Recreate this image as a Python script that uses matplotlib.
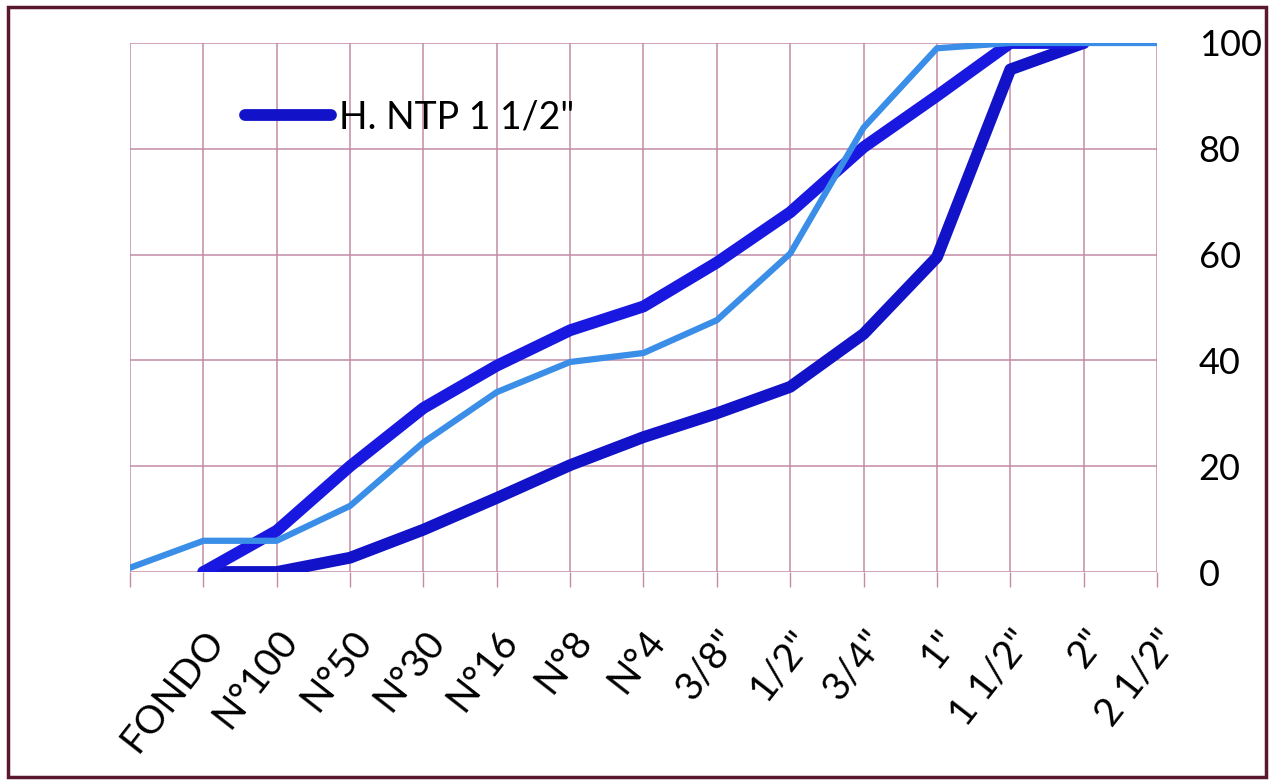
import numpy as np
import matplotlib.pyplot as plt
import matplotlib.patches as mpatches

# sieve sizes (first slot is an unlabeled start position)
sieves = ["", "FONDO", "N°100", "N°50", "N°30", "N°16", "N°8", "N°4",
          '3/8"', '1/2"', '3/4"', '1"', '1 1/2"', '2"', '2 1/2"']

nan = np.nan
# % passing
limite_sup = [nan, 0, 7.8, 20, 31, 39, 45.7, 50.2, 58.5, 68, 80.3, 90, 100, 100, nan]
limite_inf = [nan, 0, 0, 2.7, 8, 14, 20.2, 25.5, 30, 35, 45, 59.5, 95, 100, nan]
muestra = [0.8, 5.9, 5.9, 12.5, 24.5, 34, 39.7, 41.4, 47.6, 60.2, 84, 99, 100, 100, 100]

yticks = [0, 20, 40, 60, 80, 100]
legend_label = 'H. NTP 1 1/2"'

plt.rcParams["font.family"] = ["Lato", "DejaVu Sans"]

grid_c = "#c48aa6"
dark1 = "#1818e0"
dark2 = "#1212c8"
light = "#3a8ee8"

fig = plt.figure(figsize=(12.72, 7.82), dpi=100)
ax = fig.add_axes([130 / 1272, 1 - 572 / 782, (1157 - 130) / 1272, (572 - 43) / 782])

x = np.arange(len(sieves))
ax.plot(x, limite_inf, color=dark2, lw=8.5, solid_capstyle="round",
        solid_joinstyle="round", label=legend_label, zorder=3)
ax.plot(x, limite_sup, color=dark1, lw=8.5, solid_capstyle="round",
        solid_joinstyle="round", zorder=3)
ax.plot(x, muestra, color=light, lw=4.5, solid_capstyle="round",
        solid_joinstyle="round", zorder=4)

ax.set_xlim(0, len(sieves) - 1)
ax.set_ylim(0, 100)
ax.set_xticks(x)
ax.set_xticklabels(sieves, rotation=52, ha="right", va="top",
                   rotation_mode="anchor", fontsize=28)
ax.set_yticks(yticks)
ax.yaxis.tick_right()
ax.tick_params(axis="y", length=0, pad=30, labelsize=26)
ax.tick_params(axis="x", length=11, width=1, color=grid_c, pad=26)

ax.grid(True, color=grid_c, lw=1.1)
ax.set_axisbelow(True)
for s in ax.spines.values():
    s.set_visible(False)

leg = ax.legend(loc="center left", bbox_to_anchor=(0.112, 0.86),
                frameon=False, fontsize=27, handlelength=2.3,
                handletextpad=0.2, borderpad=0, borderaxespad=0)

# outer border of the chart area
fig.patches.append(mpatches.Rectangle((8 / 1272, 5 / 782), 1258 / 1272, 770 / 782,
                                      transform=fig.transFigure, fill=False,
                                      edgecolor="#5a1830", lw=2.5))

fig.savefig("out.png", dpi=100)
